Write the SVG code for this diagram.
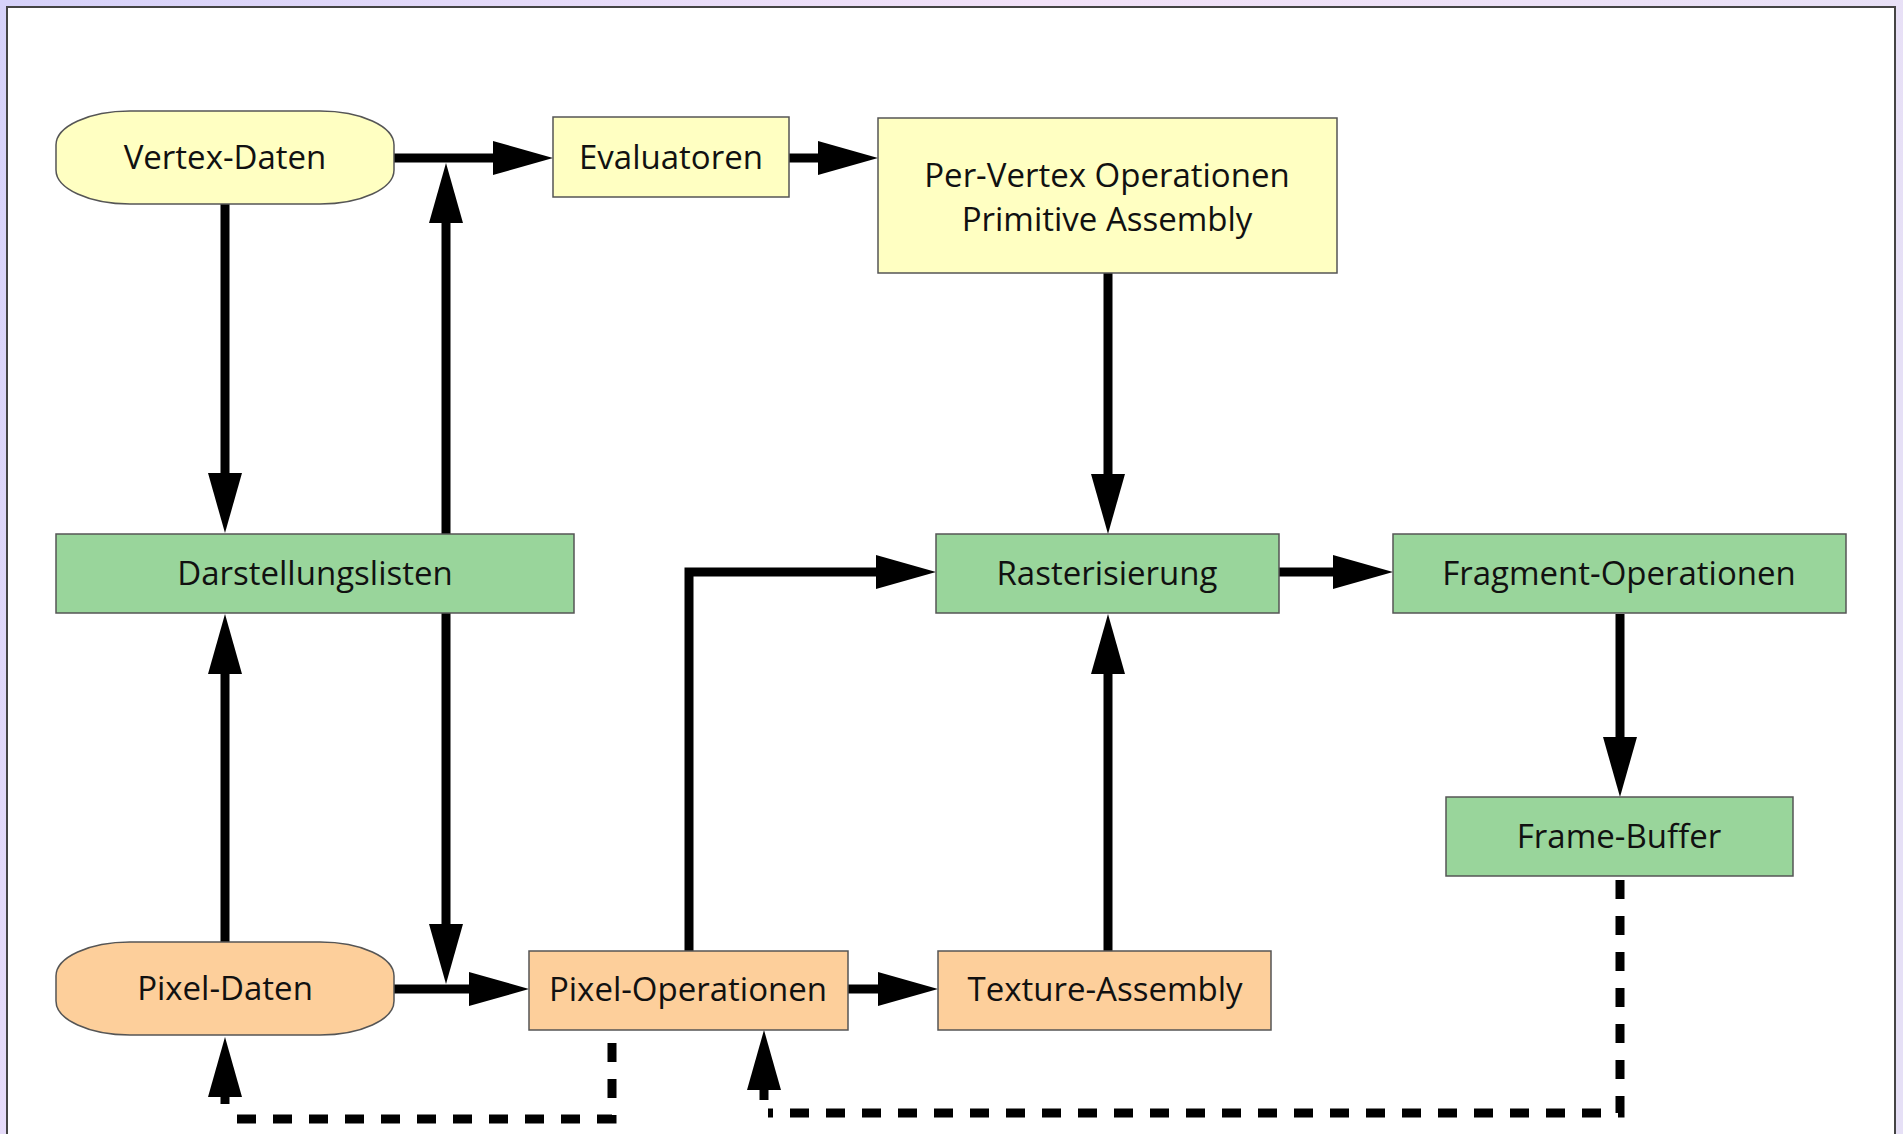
<svg xmlns="http://www.w3.org/2000/svg" width="1903" height="1134" viewBox="0 0 1903 1134">
<defs>
<linearGradient id="bg" x1="0" y1="0" x2="1" y2="0.3">
<stop offset="0" stop-color="#d6d2fa"/>
<stop offset="0.5" stop-color="#f2e2f8"/>
<stop offset="1" stop-color="#e6e0f6"/>
</linearGradient>
<marker id="ah" markerUnits="userSpaceOnUse" markerWidth="60" markerHeight="34" refX="10" refY="17" orient="auto" viewBox="0 0 60 34">
<path d="M0,0 L60,17 L0,34 Z" fill="#000"/>
</marker>
<style>
.n rect{stroke:#555;stroke-width:1.5}
.y rect{fill:#ffffc2}
.g rect{fill:#99d59b}
.o rect{fill:#fdcf9b}
text{font-family:"Open Sans","Noto Sans","DejaVu Sans",sans-serif;font-size:33px;fill:#111;text-anchor:middle}
.c line,.c path{stroke:#000;stroke-width:9;fill:none}
.c .s{marker-end:url(#ah)}
.c .d{stroke-dasharray:19 17}
</style>
</defs>
<rect x="0" y="0" width="1903" height="1134" fill="url(#bg)"/>
<rect x="7" y="7" width="1888" height="1140" fill="#fff" stroke="#444" stroke-width="2"/>
<g class="c" id="connectors">
<line class="s" x1="394" y1="158" x2="503" y2="158"/>
<line class="s" x1="446" y1="534" x2="446" y2="213"/>
<line class="s" x1="789" y1="158" x2="828" y2="158"/>
<line class="s" x1="225" y1="204" x2="225" y2="483"/>
<line class="s" x1="225" y1="942" x2="225" y2="664"/>
<line class="s" x1="446" y1="613" x2="446" y2="934"/>
<line class="s" x1="394" y1="989" x2="479" y2="989"/>
<path class="s" d="M689,951 V572 H886"/>
<line class="s" x1="848" y1="989" x2="888" y2="989"/>
<line class="s" x1="1108" y1="951" x2="1108" y2="664"/>
<line class="s" x1="1108" y1="273" x2="1108" y2="484"/>
<line class="s" x1="1279" y1="572" x2="1343" y2="572"/>
<line class="s" x1="1620" y1="614" x2="1620" y2="747"/>
<path class="d" d="M1620,880 V1113 H768"/>
<line class="s" x1="764" y1="1100" x2="764" y2="1080"/>
<path class="d" d="M612,1043 V1119 H228"/>
<line class="s" x1="225" y1="1104" x2="225" y2="1087"/>
</g>
<g id="vertex-daten" class="n y"><rect x="56" y="111" width="338" height="93" rx="74" ry="34"/><text x="225" y="169">Vertex-Daten</text></g>
<g id="evaluatoren" class="n y"><rect x="553" y="117" width="236" height="80"/><text x="671" y="169">Evaluatoren</text></g>
<g id="per-vertex" class="n y"><rect x="878" y="118" width="459" height="155"/><text x="1107" y="187">Per-Vertex Operationen</text><text x="1107" y="231">Primitive Assembly</text></g>
<g id="darstellungslisten" class="n g"><rect x="56" y="534" width="518" height="79"/><text x="315" y="585">Darstellungslisten</text></g>
<g id="rasterisierung" class="n g"><rect x="936" y="534" width="343" height="79"/><text x="1107" y="585">Rasterisierung</text></g>
<g id="fragment-operationen" class="n g"><rect x="1393" y="534" width="453" height="79"/><text x="1619" y="585">Fragment-Operationen</text></g>
<g id="frame-buffer" class="n g"><rect x="1446" y="797" width="347" height="79"/><text x="1619" y="848">Frame-Buffer</text></g>
<g id="pixel-daten" class="n o"><rect x="56" y="942" width="338" height="93" rx="74" ry="34"/><text x="225" y="1000">Pixel-Daten</text></g>
<g id="pixel-operationen" class="n o"><rect x="529" y="951" width="319" height="79"/><text x="688" y="1001">Pixel-Operationen</text></g>
<g id="texture-assembly" class="n o"><rect x="938" y="951" width="333" height="79"/><text x="1105" y="1001">Texture-Assembly</text></g>
</svg>
